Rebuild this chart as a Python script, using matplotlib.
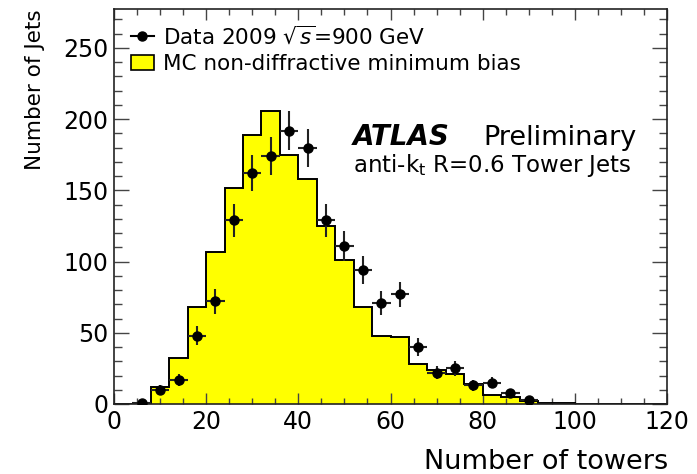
import numpy as np
import matplotlib
matplotlib.use("Agg")
import matplotlib.pyplot as plt
from matplotlib.lines import Line2D
from matplotlib.patches import Patch
from matplotlib.ticker import MultipleLocator

# ---- data ----
mc_edges = list(range(0, 124, 4))
mc_counts = [0, 0, 12, 32, 68, 107, 152, 189, 206, 175, 158, 125, 101, 68, 48, 47,
             28, 24, 21, 14, 6, 5, 2, 1, 0.5, 0.3, 0, 0, 0, 0]
data_x = [6, 10, 14, 18, 22, 26, 30, 34, 38, 42, 46, 50, 54, 58, 62, 66, 70, 74, 78, 82, 86, 90]
data_y = [1, 10, 17, 48, 72, 129, 162, 174, 192, 180, 129, 111, 94, 71, 77, 40, 22, 25, 13, 15, 8, 3]
data_yerr = [1, 3.2, 4.1, 6.9, 8.5, 11.4, 12.7, 13.2, 13.9, 13.4, 11.4, 10.5, 9.7, 8.4, 8.8,
             6.3, 4.7, 5.0, 3.6, 3.9, 2.8, 1.7]
data_xerr = [2] * len(data_x)

legend_labels = ["Data 2009 $\\sqrt{s}$=900 GeV", "MC non-diffractive minimum bias"]

plt.rcParams['font.family'] = ['DejaVu Sans']
plt.rcParams['mathtext.fontset'] = 'dejavusans'

fig = plt.figure(figsize=(6.97, 4.74), dpi=100)
ax = fig.add_axes([0.1636, 0.1477, 0.957 - 0.1636, 0.980 - 0.1477])

ax.stairs(mc_counts, mc_edges, fill=True, facecolor='#ffff00', edgecolor='none', zorder=1)
ax.stairs(mc_counts, mc_edges, fill=False, color='black', linewidth=1.4, zorder=2)

ax.errorbar(data_x, data_y, yerr=data_yerr, xerr=data_xerr, fmt='o', color='black',
            markersize=6.5, ecolor='#222222', elinewidth=1.5, capsize=0, zorder=3)

ax.set_xlim(0, 120)
ax.set_ylim(0, 277)

ax.xaxis.set_major_locator(MultipleLocator(20))
ax.xaxis.set_minor_locator(MultipleLocator(5))
ax.yaxis.set_major_locator(MultipleLocator(50))
ax.yaxis.set_minor_locator(MultipleLocator(10))

ax.tick_params(axis='both', which='both', direction='in', top=True, right=True,
               colors='#444444', labelcolor='black')
ax.tick_params(axis='x', which='major', length=8, width=1.0, labelsize=17, pad=4)
ax.tick_params(axis='x', which='minor', length=4, width=1.0)
ax.tick_params(axis='y', which='major', length=11, width=1.0, labelsize=17, pad=4)
ax.tick_params(axis='y', which='minor', length=5.5, width=1.0)
for s in ax.spines.values():
    s.set_linewidth(1.2)
    s.set_color('#222222')

ax.set_xlabel("Number of towers", fontsize=19.5, loc='right')
ax.xaxis.set_label_coords(1.003, -0.115)
ax.set_ylabel("Number of Jets", fontsize=15.5, loc='top')
ax.yaxis.set_label_coords(-0.125, 1.0)

handles = [Line2D([0], [0], color='black', marker='o', markersize=6.5, linewidth=1.5),
           Patch(facecolor='#ffff00', edgecolor='black', linewidth=1.2)]
ax.legend(handles, legend_labels, loc='upper left', bbox_to_anchor=(0.03, 0.962),
          frameon=False, fontsize=15.5, handlelength=1.1, handletextpad=0.4,
          labelspacing=0.33, borderaxespad=0, borderpad=0)

ax.text(0.432, 0.657, "ATLAS", transform=ax.transAxes, fontsize=20,
        fontweight='bold', fontstyle='italic', va='baseline', ha='left')
ax.text(0.667, 0.657, "Preliminary", transform=ax.transAxes, fontsize=19.5,
        va='baseline', ha='left')
ax.text(0.432, 0.588, "anti-k$_\\mathrm{t}$ R=0.6 Tower Jets", transform=ax.transAxes,
        fontsize=16.5, va='baseline', ha='left')

fig.savefig("out.png", dpi=100)
